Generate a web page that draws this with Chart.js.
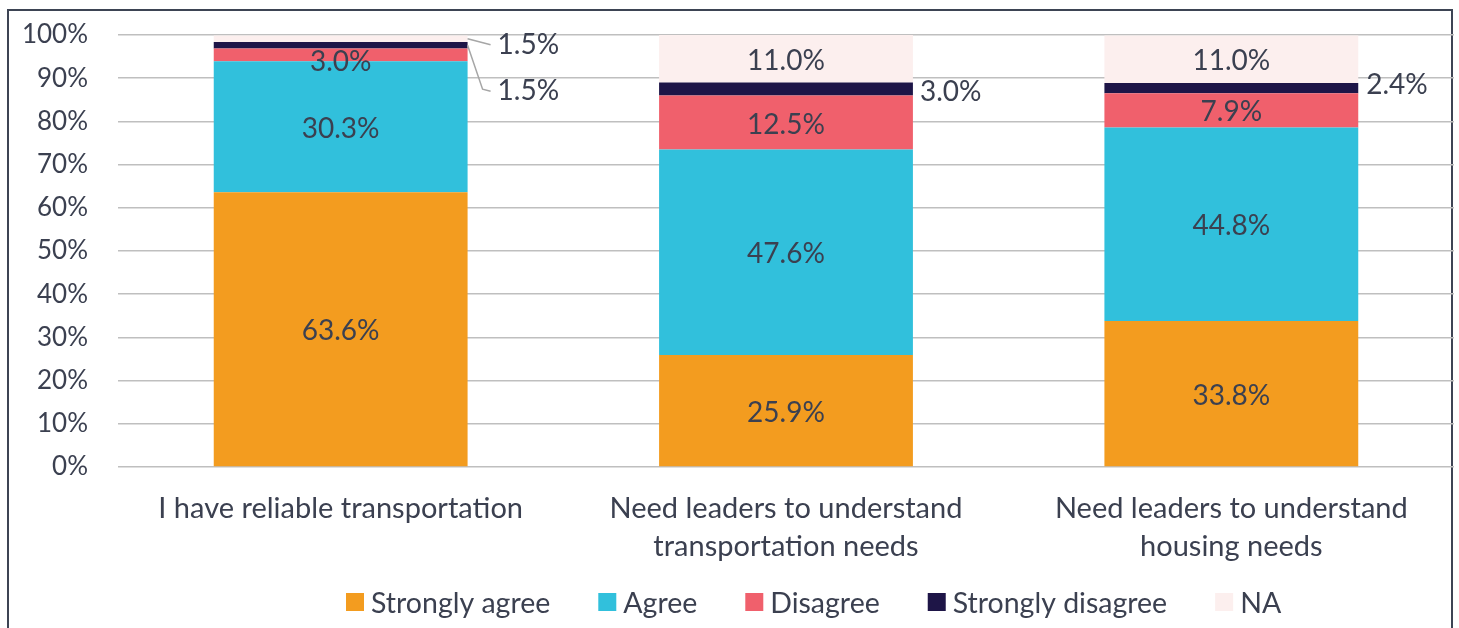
<!DOCTYPE html>
<html>
<head>
<meta charset="utf-8">
<script src="https://cdn.jsdelivr.net/npm/chart.js@4/dist/chart.umd.min.js"></script>
<style>
  body { margin: 0; background: #fff; }
  canvas { display: block; }
</style>
</head>
<body>
<canvas id="chart" width="1459" height="628"></canvas>
<script>
// chart data
const categories = [
  ["I have reliable transportation"],
  ["Need leaders to understand", "transportation needs"],
  ["Need leaders to understand", "housing needs"]
];
const seriesNames = ["Strongly agree", "Agree", "Disagree", "Strongly disagree", "NA"];
const stronglyAgree = [63.6, 25.9, 33.8];
const agree = [30.3, 47.6, 44.8];
const disagree = [3.0, 12.5, 7.9];
const stronglyDisagree = [1.5, 3.0, 2.4];
const notApplicable = [1.5, 11.0, 11.0];
const yTickValues = [0, 10, 20, 30, 40, 50, 60, 70, 80, 90, 100];

const colors = ["#F39C1F", "#31C0DC", "#F0606C", "#1E1547", "#FCEFEE"];
const textColor = "#3B4050";
const fontFamily = "Lato, 'Open Sans', sans-serif";

// label placement tweaks (dataset-index)
const nudges = {
  "4-0": { dx: 30, dy: 6, leader: "straight" },
  "3-0": { dx: 30, dy: 46, leader: "elbow" },
  "3-1": { dx: 7, dy: 3 },
  "3-2": { dx: 8, dy: -3 },
  "2-0": { dx: 0, dy: 7 }
};

const framePlugin = {
  id: "frame",
  beforeDraw(chart) {
    const ctx = chart.ctx;
    ctx.save();
    ctx.fillStyle = "#fff";
    ctx.fillRect(0, 0, chart.width, chart.height);
    ctx.strokeStyle = "#3D4454";
    ctx.lineWidth = 2;
    ctx.beginPath();
    ctx.moveTo(8, 640);
    ctx.lineTo(8, 10);
    ctx.lineTo(1452, 10);
    ctx.lineTo(1452, 640);
    ctx.stroke();
    ctx.restore();
  }
};

const labelPlugin = {
  id: "barLabels",
  afterDatasetsDraw(chart) {
    const ctx = chart.ctx;
    ctx.save();
    ctx.font = "28px " + fontFamily;
    ctx.fillStyle = textColor;
    ctx.textBaseline = "middle";
    chart.data.datasets.forEach((ds, di) => {
      const meta = chart.getDatasetMeta(di);
      meta.data.forEach((bar, i) => {
        const v = ds.data[i];
        const p = bar.getProps(["x", "y", "base", "width"], true);
        const cy = (p.y + p.base) / 2;
        const txt = v.toFixed(1) + "%";
        const n = nudges[di + "-" + i] || { dx: 0, dy: 2 };
        const outside = di === 3 || v < 2;
        if (!outside) {
          ctx.textAlign = "center";
          ctx.fillText(txt, p.x, cy + n.dy);
          return;
        }
        const right = p.x + p.width / 2;
        const lx = right + n.dx;
        const ly = cy + n.dy;
        if (n.leader) {
          ctx.strokeStyle = "#A6A6A6";
          ctx.lineWidth = 1.5;
          ctx.beginPath();
          ctx.moveTo(right, cy);
          if (n.leader === "elbow") {
            ctx.lineTo(right + 15, ly - 2);
          }
          ctx.lineTo(lx - 7, ly);
          ctx.stroke();
        }
        ctx.textAlign = "left";
        ctx.fillText(txt, lx, ly);
      });
    });
    ctx.restore();
  }
};

// legend drawn by hand so it stays compact under the axis labels
const legendPlugin = {
  id: "flatLegend",
  afterDraw(chart) {
    const ctx = chart.ctx;
    ctx.save();
    ctx.font = "28.5px " + fontFamily;
    ctx.textBaseline = "middle";
    ctx.textAlign = "left";
    let x = 346;
    const y = 604;
    chart.data.datasets.forEach(ds => {
      ctx.fillStyle = ds.backgroundColor;
      ctx.fillRect(x, y - 11, 18, 18);
      ctx.fillStyle = textColor;
      ctx.fillText(ds.label, x + 25, y);
      x += 25 + ctx.measureText(ds.label).width + 48;
    });
    ctx.restore();
  }
};

const seriesData = [stronglyAgree, agree, disagree, stronglyDisagree, notApplicable];

new Chart(document.getElementById("chart"), {
  type: "bar",
  data: {
    labels: categories,
    datasets: seriesNames.map((name, k) => ({
      label: name,
      data: seriesData[k],
      backgroundColor: colors[k],
      borderWidth: 0,
      categoryPercentage: 1,
      barPercentage: 0.57
    }))
  },
  options: {
    responsive: false,
    animation: false,
    devicePixelRatio: 1,
    layout: { padding: { top: 35, right: 5, left: 0, bottom: 40 } },
    plugins: {
      legend: { display: false },
      tooltip: { enabled: false }
    },
    scales: {
      x: {
        stacked: true,
        grid: { display: false },
        border: { display: false },
        ticks: {
          color: textColor,
          padding: 15,
          maxRotation: 0,
          font: { family: fontFamily, size: 29, lineHeight: 1.31 }
        },
        afterFit(scale) { scale.height = 121; }
      },
      y: {
        stacked: true,
        min: 0,
        max: 100,
        afterBuildTicks(scale) { scale.ticks = yTickValues.map(v => ({ value: v })); },
        afterFit(scale) {
          scale.width = 118;
          scale.paddingTop = 0;
          scale.paddingBottom = 0;
        },
        grid: { color: "#BFBFBF", lineWidth: 1.5, drawTicks: false },
        border: { display: false },
        ticks: {
          color: textColor,
          padding: 30,
          font: { family: fontFamily, size: 26 },
          callback: v => v + "%"
        }
      }
    }
  },
  plugins: [framePlugin, labelPlugin, legendPlugin]
});
</script>
</body>
</html>
